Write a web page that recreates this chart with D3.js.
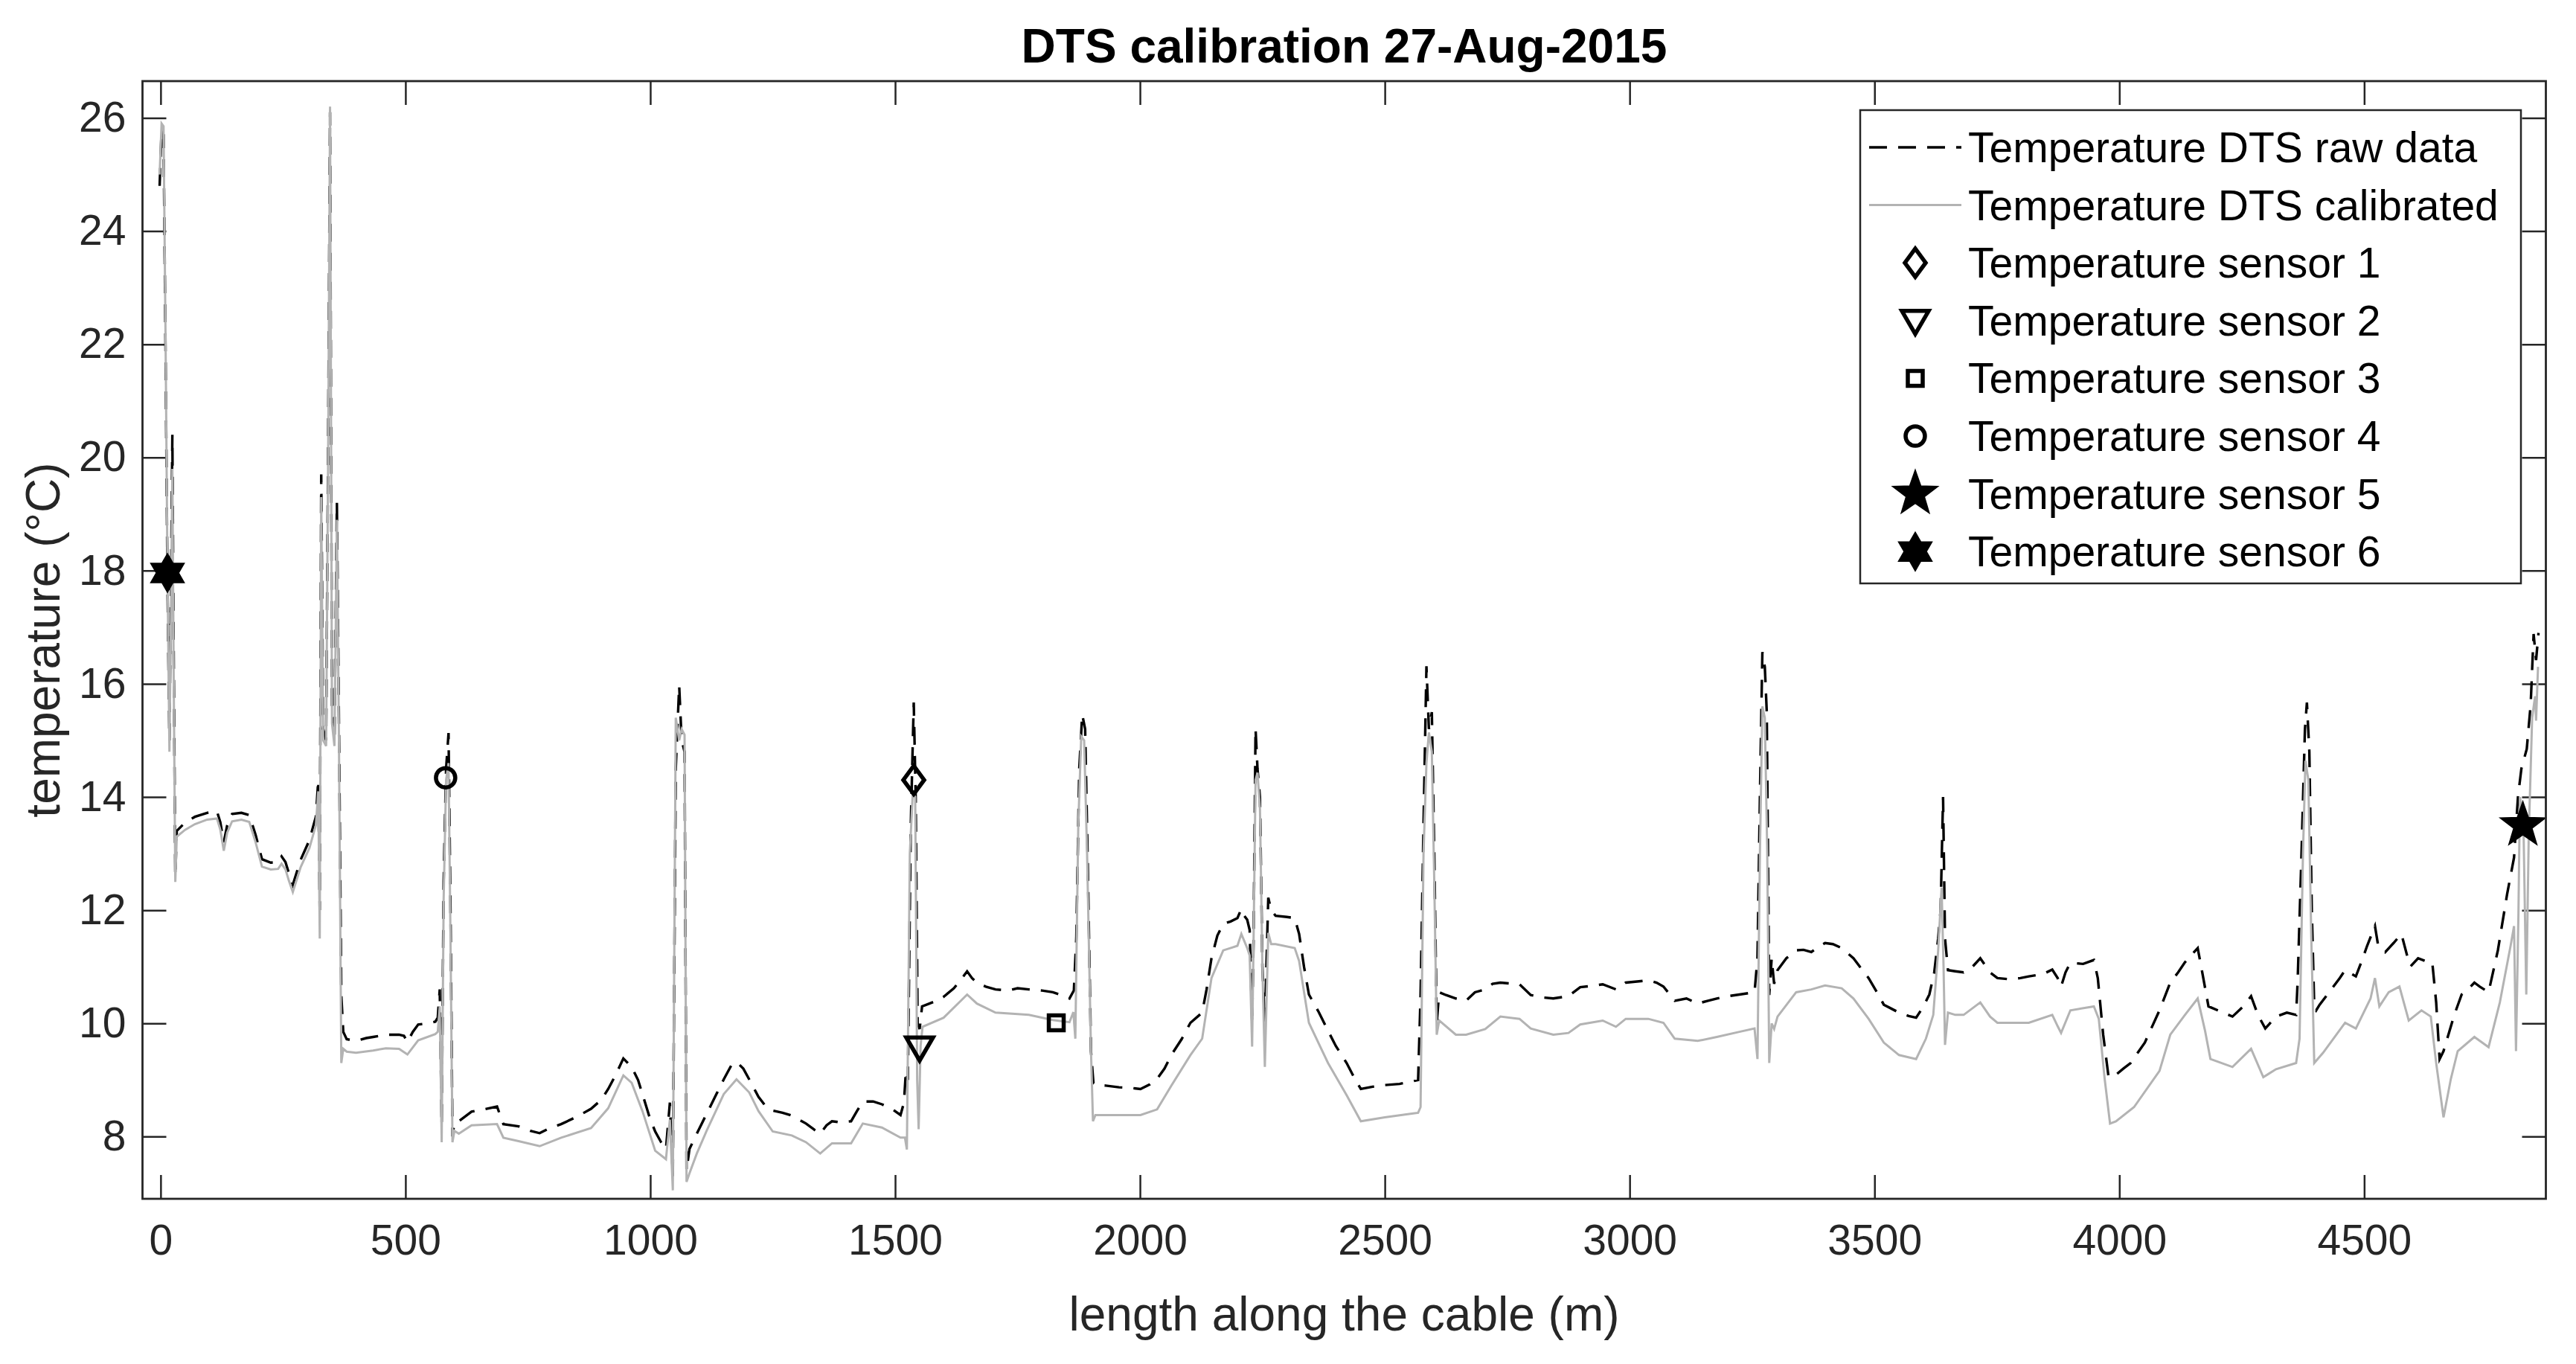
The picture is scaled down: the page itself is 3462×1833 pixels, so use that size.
<!DOCTYPE html>
<html>
<head>
<meta charset="utf-8">
<script src="https://cdn.jsdelivr.net/npm/d3@7"></script>
<style>
  html, body { margin: 0; padding: 0; background: #fff; }
  svg { display: block; font-family: "Liberation Sans", Arial, Helvetica, sans-serif; }
</style>
</head>
<body>
<svg id="chart" width="3462" height="1833"></svg>
<script>
/* ============================
   DATA
============================ */
const TITLE = "DTS calibration 27-Aug-2015";
const X_LABEL = "length along the cable (m)";
const Y_LABEL = "temperature (°C)";

const X_RANGE = [-37, 4871];
const Y_RANGE = [6.9, 26.65];
const X_TICKS = [0, 500, 1000, 1500, 2000, 2500, 3000, 3500, 4000, 4500];
const Y_TICKS = [8, 10, 12, 14, 16, 18, 20, 22, 24, 26];

// [length (m), temperature (°C)] - raw DTS trace (dashed)
const rawData = [
  [-2,24.8],[2,25.8],[6,25.7],[10,22.0],[14,17.8],[18,15.0],[21,17.5],[24,20.4],[27,16.2],[30,12.6],[33,13.4],
  [50,13.55],[70,13.65],[95,13.72],[115,13.75],[122,13.55],[129,13.2],[136,13.5],[146,13.7],[165,13.72],[181,13.68],[194,13.33],[207,12.9],[225,12.84],[240,12.85],[247,12.95],[255,12.85],[262,12.65],[270,12.45],[286,12.89],[304,13.24],[317,13.65],[322,14.3],
  [325,12.0],[328,19.7],[332,15.2],[338,15.0],[342,20.0],[346,26.1],[350,15.6],[355,15.0],[360,19.2],[364,15.5],[369,10.5],[373,9.85],
  [380,9.72],[399,9.69],[420,9.74],[434,9.76],[460,9.8],[487,9.8],[497,9.78],[504,9.67],[515,9.85],[526,9.98],[545,10.0],[561,10.03],[566,10.1],[570,10.6],[574,8.2],[578,12.5],[583,14.5],[588,15.13],[592,12.0],[596,8.0],[600,8.25],
  [609,8.27],[635,8.44],[660,8.48],[687,8.53],[700,8.22],[731,8.18],[755,8.1],[774,8.06],[795,8.15],[818,8.22],[850,8.35],[879,8.49],[900,8.65],[914,8.84],[930,9.1],[945,9.38],[962,9.23],[975,9.0],[984,8.75],[1000,8.3],[1010,8.09],[1022,7.9],[1032,7.78],
  [1040,8.6],[1046,7.3],[1052,14.5],[1059,15.97],[1064,15.0],[1070,14.8],[1074,7.4],[1080,7.78],
  [1095,8.05],[1115,8.4],[1135,8.75],[1150,9.01],[1165,9.25],[1176,9.32],[1190,9.2],[1202,9.01],[1221,8.7],[1237,8.52],[1250,8.46],[1270,8.42],[1289,8.37],[1318,8.23],[1335,8.12],[1347,8.05],[1360,8.2],[1371,8.27],[1390,8.25],[1410,8.27],[1422,8.45],[1434,8.62],[1455,8.62],[1473,8.57],[1495,8.48],[1511,8.38],[1518,8.6],[1522,9.16],
  [1526,9.0],[1532,13.5],[1538,15.67],[1542,14.0],[1546,10.0],[1550,9.9],[1555,10.3],
  [1570,10.35],[1585,10.4],[1599,10.47],[1620,10.62],[1635,10.78],[1647,10.92],[1657,10.8],[1667,10.72],[1685,10.65],[1705,10.6],[1730,10.58],[1750,10.62],[1773,10.6],[1800,10.58],[1822,10.55],[1840,10.5],[1856,10.44],[1865,10.58],[1870,11.51],
  [1876,14.5],[1882,15.46],[1888,15.2],[1893,13.0],[1900,9.5],[1905,8.94],
  [1909,8.91],[1930,8.9],[1957,8.87],[1980,8.86],[2001,8.84],[2020,8.92],[2035,9.02],[2050,9.2],[2064,9.44],[2085,9.72],[2103,10.01],[2127,10.19],[2136,10.6],[2146,11.15],[2158,11.55],[2170,11.76],[2185,11.8],[2199,11.86],[2207,12.02],[2213,11.9],[2219,11.83],[2224,11.65],
  [2229,10.0],[2232,11.5],[2236,15.21],[2240,14.5],[2245,14.0],[2250,11.0],[2255,10.0],[2262,12.22],[2268,12.0],
  [2277,11.9],[2300,11.88],[2316,11.86],[2325,11.58],[2335,11.0],[2345,10.51],[2365,10.2],[2384,9.87],[2400,9.6],[2422,9.3],[2440,9.0],[2451,8.84],[2475,8.88],[2500,8.91],[2530,8.93],[2558,8.98],[2568,9.0],
  [2573,10.5],[2579,13.5],[2585,16.31],[2590,15.2],[2596,15.5],[2601,13.0],[2606,10.0],[2611,10.55],
  [2625,10.5],[2645,10.44],[2666,10.4],[2684,10.55],[2705,10.6],[2720,10.7],[2736,10.72],[2775,10.69],[2798,10.5],[2820,10.46],[2844,10.44],[2875,10.48],[2899,10.64],[2920,10.66],[2945,10.69],[2972,10.6],[2992,10.72],[3015,10.74],[3038,10.76],[3055,10.72],[3069,10.65],[3092,10.4],[3116,10.44],[3139,10.35],[3160,10.4],[3178,10.44],[3200,10.48],[3224,10.51],[3255,10.55],[3261,11.15],
  [3266,14.0],[3271,16.56],[3276,16.3],[3280,15.5],[3285,10.5],[3290,11.15],[3295,10.7],
  [3302,10.94],[3320,11.15],[3340,11.29],[3355,11.3],[3371,11.26],[3385,11.35],[3399,11.42],[3415,11.4],[3433,11.33],[3457,11.15],[3472,10.98],[3488,10.8],[3505,10.55],[3519,10.33],[3550,10.19],[3570,10.13],[3585,10.1],[3600,10.3],[3612,10.51],[3622,10.9],[3630,11.5],[3635,12.0],[3640,14.0],[3644,11.5],[3650,10.94],
  [3665,10.92],[3682,10.9],[3700,11.0],[3716,11.15],[3736,10.9],[3751,10.8],[3775,10.78],[3798,10.8],[3815,10.83],[3844,10.87],[3863,10.95],[3874,10.8],[3881,10.65],[3890,10.9],[3900,11.07],[3926,11.05],[3948,11.12],[3956,10.8],[3967,9.8],[3978,9.05],[3993,9.09],[4008,9.2],[4023,9.3],[4052,9.66],[4082,10.23],[4104,10.72],[4120,10.9],[4134,11.08],[4160,11.33],[4167,11.01],[4182,10.3],[4201,10.23],[4231,10.12],[4253,10.3],[4269,10.48],[4283,10.15],[4298,9.91],[4320,10.12],[4342,10.19],[4361,10.15],[4364,10.72],
  [4372,13.0],[4379,15.2],[4383,15.67],[4388,14.8],[4393,12.0],[4398,10.3],[4402,10.23],
  [4409,10.33],[4431,10.58],[4450,10.8],[4461,10.94],[4483,10.83],[4495,11.1],[4506,11.37],[4522,11.72],[4528,11.4],[4543,11.26],[4560,11.42],[4576,11.58],[4587,11.22],[4595,11.01],[4610,11.15],[4625,11.1],[4639,11.08],[4647,10.37],[4654,9.37],[4662,9.51],[4684,10.15],[4699,10.51],[4712,10.6],[4725,10.72],[4736,10.65],[4754,10.55],[4773,11.29],[4792,12.29],[4806,12.93],[4814,14.0],[4821,14.5],[4832,14.85],[4840,15.64],[4846,16.88],[4851,16.42],[4856,16.9]
];

// [length (m), temperature (°C)] - calibrated trace (grey)
const calData = [
  [-2,25.0],[2,25.9],[6,25.85],[10,22.2],[14,18.0],[18,14.8],[21,17.0],[24,19.8],[27,15.8],[30,12.5],[33,13.3],
  [50,13.42],[70,13.52],[95,13.6],[115,13.62],[122,13.42],[129,13.05],[136,13.37],[146,13.57],[165,13.6],[181,13.56],[194,13.2],[207,12.77],[225,12.72],[240,12.73],[247,12.82],[255,12.72],[262,12.52],[270,12.32],[286,12.76],[304,13.1],[317,13.5],[322,14.1],
  [325,11.5],[328,19.3],[332,15.0],[338,14.9],[342,19.8],[346,26.2],[350,15.3],[355,14.9],[360,18.9],[364,15.2],[369,9.3],[373,9.55],
  [380,9.5],[399,9.48],[434,9.52],[460,9.56],[487,9.55],[504,9.45],[526,9.7],[561,9.81],[566,9.85],[570,10.3],[574,7.9],[578,12.2],[583,14.3],[588,14.6],[592,11.5],[596,7.9],[600,8.1],
  [609,8.05],[635,8.2],[687,8.22],[700,7.98],[731,7.92],[774,7.83],[818,7.98],[879,8.15],[914,8.5],[945,9.08],[962,8.95],[984,8.45],[1010,7.75],[1032,7.6],
  [1040,8.3],[1046,7.05],[1052,15.4],[1059,15.0],[1064,15.2],[1070,15.1],[1074,7.2],[1080,7.35],
  [1095,7.7],[1115,8.1],[1150,8.75],[1176,9.01],[1202,8.78],[1221,8.45],[1250,8.09],[1289,8.02],[1318,7.9],[1347,7.7],[1371,7.88],[1410,7.88],[1434,8.23],[1473,8.16],[1511,7.98],[1520,7.98],
  [1524,7.77],[1530,13.0],[1536,14.07],[1541,14.0],[1545,9.0],[1548,8.13],[1552,9.6],[1556,9.94],
  [1599,10.1],[1647,10.51],[1667,10.35],[1705,10.19],[1773,10.15],[1822,10.06],[1856,10.02],[1864,10.2],[1868,9.73],
  [1874,13.5],[1880,15.07],[1886,15.0],[1892,13.0],[1900,9.5],[1904,8.27],[1909,8.38],
  [1957,8.38],[2001,8.38],[2035,8.48],[2064,8.9],[2103,9.44],[2127,9.73],[2146,10.8],[2170,11.29],[2199,11.37],[2207,11.58],[2219,11.33],[2224,11.2],
  [2229,9.59],[2232,11.5],[2236,14.3],[2240,14.43],[2245,13.8],[2250,11.0],[2255,9.23],[2262,11.6],[2268,11.4],
  [2277,11.4],[2316,11.33],[2325,11.1],[2345,10.01],[2384,9.3],[2422,8.73],[2451,8.27],[2500,8.34],[2558,8.41],[2568,8.42],
  [2573,8.52],[2579,13.0],[2585,14.6],[2590,15.14],[2596,14.8],[2601,12.5],[2606,9.8],[2611,10.05],
  [2645,9.8],[2666,9.8],[2705,9.9],[2736,10.12],[2775,10.08],[2798,9.91],[2844,9.8],[2875,9.83],[2899,9.98],[2945,10.05],[2972,9.94],[2992,10.08],[3038,10.08],[3069,10.01],[3092,9.73],[3139,9.69],[3178,9.76],[3224,9.85],[3255,9.91],
  [3261,9.37],[3266,13.0],[3271,15.6],[3276,15.4],[3281,13.0],[3285,9.3],[3290,10.0],[3295,9.9],
  [3302,10.12],[3340,10.55],[3371,10.6],[3399,10.67],[3433,10.62],[3457,10.44],[3488,10.08],[3519,9.66],[3550,9.44],[3585,9.37],[3605,9.73],[3620,10.15],[3630,11.29],[3637,12.4],[3641,11.0],[3644,9.62],[3650,10.19],
  [3665,10.15],[3682,10.15],[3716,10.37],[3736,10.12],[3751,10.01],[3798,10.01],[3815,10.01],[3863,10.15],[3874,9.95],[3881,9.83],[3900,10.23],[3948,10.3],[3958,10.08],[3970,9.02],[3981,8.23],[3993,8.27],[4030,8.52],[4082,9.16],[4104,9.8],[4134,10.15],[4160,10.44],[4175,9.87],[4186,9.37],[4231,9.23],[4269,9.55],[4294,9.05],[4320,9.19],[4361,9.3],[4368,9.73],
  [4375,13.0],[4380,14.64],[4386,14.3],[4392,11.5],[4398,9.3],
  [4416,9.48],[4461,10.01],[4483,9.91],[4513,10.44],[4522,10.8],[4531,10.3],[4550,10.55],[4572,10.65],[4591,10.05],[4617,10.23],[4636,10.12],[4647,9.3],[4662,8.34],[4677,9.02],[4691,9.51],[4725,9.76],[4754,9.58],[4777,10.37],[4799,11.37],[4806,11.72],[4810,9.51],[4815,11.94],[4818,14.0],[4825,13.65],[4831,10.51],[4836,13.3],[4843,15.4],[4849,15.78],[4851,15.35],[4855,16.3]
];

// reference sensors
const sensorNames = ["Temperature sensor 1", "Temperature sensor 2", "Temperature sensor 3",
                     "Temperature sensor 4", "Temperature sensor 5", "Temperature sensor 6"];
const sensorLength = [1538, 1550, 1829, 582, 4824, 14];
const sensorTemp = [14.3, 9.58, 10.01, 14.34, 13.5, 17.96];

const lineNames = ["Temperature DTS raw data", "Temperature DTS calibrated"];

/* ============================
   STYLE
============================ */
const M = { left: 191.5, right: 3421.5, top: 109, bottom: 1611 };
const AX_COLOR = "#262626";
const RAW_COLOR = "#000000";
const CAL_COLOR = "#b3b3b3";
const DASH = "24,15";
const MARK_W = 5.5;
const sensorShapes = ["diamond", "triangleDown", "square", "circle", "pentagram", "hexagram"];

/* marker outlines (px, centred on 0,0) */
function markerPath(type) {
  const p = d3.path();
  const star = (n, R, r) => {
    for (let i = 0; i < 2 * n; i++) {
      const a = -Math.PI / 2 + i * Math.PI / n;
      const rad = i % 2 === 0 ? R : r;
      const px = Math.cos(a) * rad, py = Math.sin(a) * rad;
      if (i === 0) p.moveTo(px, py); else p.lineTo(px, py);
    }
    p.closePath();
  };
  if (type === "diamond") {
    p.moveTo(0, -19); p.lineTo(14, 0); p.lineTo(0, 19); p.lineTo(-14, 0); p.closePath();
  } else if (type === "triangleDown") {
    p.moveTo(-18, -13); p.lineTo(18, -13); p.lineTo(0, 18); p.closePath();
  } else if (type === "square") {
    p.rect(-10, -10, 20, 20);
  } else if (type === "circle") {
    p.arc(0, 0, 13, 0, 2 * Math.PI);
  } else if (type === "pentagram") {
    star(5, 26, 10.5);
  } else if (type === "hexagram") {
    star(6, 22, 12.7);
  }
  return p.toString();
}
const isFilled = t => t === "pentagram" || t === "hexagram";

/* ============================
   CHART
============================ */
const svg = d3.select("#chart");

const x = d3.scaleLinear().domain(X_RANGE).range([M.left, M.right]);
const y = d3.scaleLinear().domain(Y_RANGE).range([M.bottom, M.top]);

svg.append("defs").append("clipPath").attr("id", "plotClip")
  .append("rect")
  .attr("x", M.left).attr("y", M.top)
  .attr("width", M.right - M.left).attr("height", M.bottom - M.top);

// axes (ticks pointing inward, mirrored on top/right)
const TICK = 32;
const styleAxis = g => {
  g.select(".domain").remove();
  g.selectAll(".tick line").attr("stroke", AX_COLOR).attr("stroke-width", 2.5);
  g.selectAll(".tick text").attr("fill", AX_COLOR).attr("font-size", 57);
};

svg.append("g")
  .attr("transform", `translate(0,${M.bottom})`)
  .call(d3.axisBottom(x).tickValues(X_TICKS).tickSize(-TICK).tickPadding(35).tickFormat(d3.format("d")))
  .call(styleAxis);

svg.append("g")
  .attr("transform", `translate(0,${M.top})`)
  .call(d3.axisTop(x).tickValues(X_TICKS).tickSize(-TICK).tickFormat(""))
  .call(styleAxis);

svg.append("g")
  .attr("transform", `translate(${M.left},0)`)
  .call(d3.axisLeft(y).tickValues(Y_TICKS).tickSize(-TICK).tickPadding(22).tickFormat(d3.format("d")))
  .call(styleAxis);

svg.append("g")
  .attr("transform", `translate(${M.right},0)`)
  .call(d3.axisRight(y).tickValues(Y_TICKS).tickSize(-TICK).tickFormat(""))
  .call(styleAxis);

// lines
const line = d3.line().x(d => x(d[0])).y(d => y(d[1]));
const plot = svg.append("g").attr("clip-path", "url(#plotClip)");

plot.append("path")
  .datum(rawData)
  .attr("d", line)
  .attr("fill", "none")
  .attr("stroke", RAW_COLOR)
  .attr("stroke-width", 3.4)
  .attr("stroke-dasharray", DASH);

plot.append("path")
  .datum(calData)
  .attr("d", line)
  .attr("fill", "none")
  .attr("stroke", CAL_COLOR)
  .attr("stroke-width", 3);

// sensors
svg.append("g").selectAll("path")
  .data(sensorNames)
  .enter()
  .append("path")
  .attr("transform", (d, i) => `translate(${x(sensorLength[i])},${y(sensorTemp[i])})`)
  .attr("d", (d, i) => markerPath(sensorShapes[i]))
  .attr("fill", (d, i) => isFilled(sensorShapes[i]) ? "#000" : "none")
  .attr("stroke", "#000")
  .attr("stroke-width", MARK_W)
  .attr("stroke-linejoin", "miter");

// box
svg.append("rect")
  .attr("x", M.left).attr("y", M.top)
  .attr("width", M.right - M.left).attr("height", M.bottom - M.top)
  .attr("fill", "none")
  .attr("stroke", AX_COLOR)
  .attr("stroke-width", 2.8);

// title + labels
svg.append("text")
  .attr("x", (M.left + M.right) / 2).attr("y", 84)
  .attr("text-anchor", "middle")
  .attr("font-size", 64).attr("font-weight", "bold").attr("fill", "#000")
  .text(TITLE);

svg.append("text")
  .attr("x", (M.left + M.right) / 2).attr("y", 1788)
  .attr("text-anchor", "middle")
  .attr("font-size", 64).attr("fill", AX_COLOR)
  .text(X_LABEL);

svg.append("text")
  .attr("transform", `translate(80,${(M.top + M.bottom) / 2}) rotate(-90)`)
  .attr("text-anchor", "middle")
  .attr("font-size", 64).attr("fill", AX_COLOR)
  .text(Y_LABEL);

/* ============================
   LEGEND
============================ */
const LG = { left: 2500, top: 148, right: 3388, bottom: 784, base0: 218, step: 77.6 };
const legend = svg.append("g");
legend.append("rect")
  .attr("x", LG.left).attr("y", LG.top)
  .attr("width", LG.right - LG.left).attr("height", LG.bottom - LG.top)
  .attr("fill", "#fff").attr("stroke", AX_COLOR).attr("stroke-width", 2.5);

const legendNames = lineNames.concat(sensorNames);
legendNames.forEach((name, i) => {
  const base = LG.base0 + i * LG.step;
  const mid = base - 20;
  if (i < 2) {
    legend.append("line")
      .attr("x1", 2512).attr("x2", 2636).attr("y1", mid).attr("y2", mid)
      .attr("stroke", i === 0 ? RAW_COLOR : CAL_COLOR)
      .attr("stroke-width", i === 0 ? 3.4 : 3)
      .attr("stroke-dasharray", i === 0 ? DASH : null);
  } else {
    const t = sensorShapes[i - 2];
    legend.append("path")
      .attr("transform", `translate(2574,${mid})`)
      .attr("d", markerPath(t))
      .attr("fill", isFilled(t) ? "#000" : "none")
      .attr("stroke", "#000").attr("stroke-width", MARK_W);
  }
  legend.append("text")
    .attr("x", 2645).attr("y", base)
    .attr("font-size", 57).attr("fill", "#000")
    .text(name);
});
</script>
</body>
</html>
